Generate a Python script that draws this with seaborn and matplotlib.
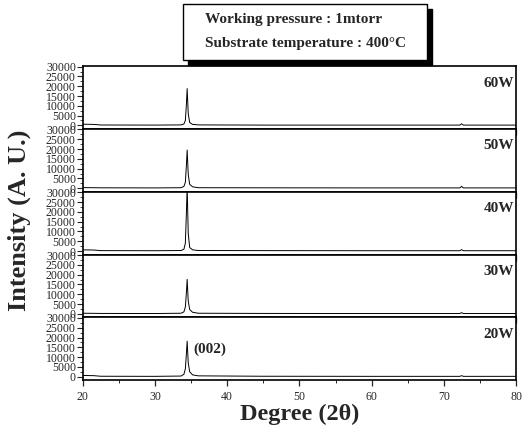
import matplotlib
matplotlib.use("Agg")
import matplotlib.pyplot as plt
from matplotlib.patches import Rectangle
from matplotlib.ticker import MultipleLocator
import seaborn as sns
import pandas as pd

# XRD scans (2theta in degrees, intensity in counts)
two_theta = [20, 21.5, 22.5, 30, 33.6, 34.0, 34.2, 34.35, 34.45, 34.6, 34.8, 35.2, 36, 45, 60, 72.2, 72.45, 72.7, 80]
int_60w = [600, 500, 200, 150, 250, 700, 2500, 11000, 18800, 6000, 1500, 500, 250, 150, 150, 150, 800, 150, 150]
int_50w = [300, 250, 200, 150, 250, 900, 3000, 12000, 19500, 7000, 2000, 700, 250, 200, 150, 150, 900, 150, 150]
int_40w = [600, 500, 200, 150, 250, 900, 4000, 20000, 33000, 9000, 1800, 600, 250, 200, 150, 150, 700, 150, 150]
int_30w = [300, 250, 200, 150, 300, 1000, 3500, 11000, 17600, 6500, 2200, 800, 300, 200, 150, 150, 600, 150, 150]
int_20w = [600, 500, 200, 150, 300, 1200, 4000, 12000, 18100, 7000, 2500, 900, 400, 200, 150, 150, 500, 150, 150]

powers = ["60W", "50W", "40W", "30W", "20W"]
series = [int_60w, int_50w, int_40w, int_30w, int_20w]

x_ticks = [20, 30, 40, 50, 60, 70, 80]
y_ticks = [0, 5000, 10000, 15000, 20000, 25000, 30000]

sns.set_theme(style="ticks")
plt.rcParams["font.family"] = ["Liberation Serif", "DejaVu Serif"]

fig, axes = plt.subplots(5, 1, sharex=True, figsize=(5.24, 4.32), dpi=100)
fig.subplots_adjust(left=0.158, right=0.985, bottom=0.120, top=0.847, hspace=0)

for ax, label, vals in zip(axes, powers, series):
    df = pd.DataFrame({"two_theta": two_theta, "intensity": vals})
    sns.lineplot(data=df, x="two_theta", y="intensity", ax=ax, color="black", lw=0.7)
    ax.set_xlim(20, 80)
    ax.set_ylim(-1800, 30300)
    ax.set_yticks(y_ticks)
    ax.set_yticklabels([str(v) for v in y_ticks], fontsize=8.5)
    ax.yaxis.set_minor_locator(MultipleLocator(2500))
    ax.xaxis.set_minor_locator(MultipleLocator(5))
    ax.tick_params(axis="y", which="major", length=4, width=0.8, pad=1)
    ax.tick_params(axis="y", which="minor", length=2, width=0.6)
    ax.tick_params(axis="x", which="major", length=4, width=0.9, labelsize=8.5)
    ax.tick_params(axis="x", which="minor", length=2, width=0.7)
    ax.set_xlabel("")
    ax.set_ylabel("")
    for s in ax.spines.values():
        s.set_linewidth(1.2)
        s.set_color("black")
    ax.text(0.995, 0.73, label, transform=ax.transAxes, ha="right", va="center",
            fontsize=11, fontweight="bold")

axes[-1].set_xticks(x_ticks)
axes[-1].text(35.3, 14000, "(002)", fontsize=11, fontweight="bold", va="center")
axes[-1].set_xlabel("Degree (2θ)", fontsize=17.5, fontweight="bold", labelpad=1)
fig.text(0.036, 0.49, "Intensity (A. U.)", rotation=90, ha="center", va="center",
         fontsize=19, fontweight="bold")

# condition box with drop shadow
fig.patches.append(Rectangle((0.358, 0.850), 0.466, 0.130, transform=fig.transFigure,
                             facecolor="black", edgecolor="black", zorder=1))
fig.patches.append(Rectangle((0.349, 0.861), 0.466, 0.130, transform=fig.transFigure,
                             facecolor="white", edgecolor="black", lw=1.0, zorder=2))
fig.text(0.391, 0.954, "Working pressure : 1mtorr", fontsize=11, fontweight="bold",
         va="center", zorder=3)
fig.text(0.391, 0.899, "Substrate temperature : 400°C", fontsize=11, fontweight="bold",
         va="center", zorder=3)

fig.savefig("out.png", dpi=100)
